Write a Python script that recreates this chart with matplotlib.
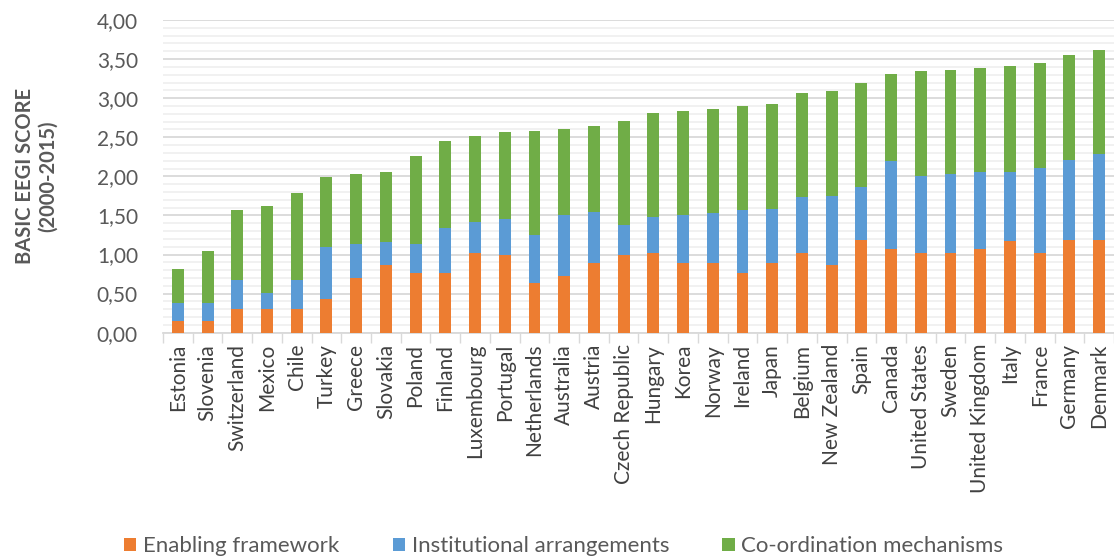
import matplotlib.pyplot as plt
import numpy as np
from matplotlib.ticker import FuncFormatter, MultipleLocator

countries = ["Estonia", "Slovenia", "Switzerland", "Mexico", "Chile", "Turkey",
             "Greece", "Slovakia", "Poland", "Finland", "Luxembourg", "Portugal",
             "Netherlands", "Australia", "Austria", "Czech Republic", "Hungary",
             "Korea", "Norway", "Ireland", "Japan", "Belgium", "New Zealand",
             "Spain", "Canada", "United States", "Sweden", "United Kingdom",
             "Italy", "France", "Germany", "Denmark"]

# cumulative tops of each stacked segment
enabling = [0.15, 0.15, 0.30, 0.30, 0.30, 0.43, 0.70, 0.86, 0.76, 0.76, 1.02, 0.99,
            0.63, 0.73, 0.89, 0.99, 1.02, 0.89, 0.89, 0.76, 0.89, 1.02, 0.86,
            1.19, 1.07, 1.02, 1.02, 1.07, 1.17, 1.02, 1.19, 1.19]
institutional_top = [0.38, 0.38, 0.68, 0.51, 0.68, 1.10, 1.14, 1.16, 1.14, 1.34, 1.41, 1.46,
                     1.25, 1.50, 1.54, 1.38, 1.48, 1.50, 1.53, 1.57, 1.58, 1.73, 1.75,
                     1.86, 2.20, 2.01, 2.03, 2.05, 2.06, 2.11, 2.21, 2.28]
total = [0.82, 1.05, 1.57, 1.62, 1.79, 1.99, 2.03, 2.05, 2.26, 2.45, 2.52, 2.57,
         2.58, 2.61, 2.65, 2.71, 2.81, 2.83, 2.86, 2.90, 2.92, 3.07, 3.09,
         3.20, 3.31, 3.35, 3.36, 3.39, 3.41, 3.45, 3.55, 3.61]

enabling = np.array(enabling)
institutional = np.array(institutional_top) - enabling
coordination = np.array(total) - np.array(institutional_top)

plt.rcParams['font.family'] = ['Lato', 'DejaVu Sans']
grey = "#595959"

fig = plt.figure(figsize=(11.14, 5.58), dpi=100)
ax = fig.add_axes([0.1463, 0.4038, 0.8537, 0.5604])

x = np.arange(len(countries))
w = 0.4
ax.bar(x, enabling, w, color="#ED7D31", label="Enabling framework", zorder=3)
ax.bar(x, institutional, w, bottom=enabling, color="#5B9BD5",
       label="Institutional arrangements", zorder=3)
ax.bar(x, coordination, w, bottom=enabling + institutional, color="#70AD47",
       label="Co-ordination mechanisms", zorder=3)

ax.set_ylim(0, 4)
ax.set_xlim(-0.5, len(countries) - 0.5)
ax.yaxis.set_major_locator(MultipleLocator(0.5))
ax.yaxis.set_minor_locator(MultipleLocator(0.1))
ax.yaxis.set_major_formatter(FuncFormatter(lambda v, p: f"{v:.2f}".replace(".", ",")))
ax.grid(axis="y", which="major", color="#d9d9d9", linewidth=1.3, zorder=0)
ax.grid(axis="y", which="minor", color="#f0f0f0", linewidth=1.3, zorder=0)

ax.set_xticks(x)
ax.set_xticklabels(countries, rotation=90, fontsize=15, color="#404040")
ax.set_xticks(np.arange(-0.5, len(countries)), minor=True)
ax.tick_params(axis="x", which="major", length=0, pad=8)
ax.tick_params(axis="x", which="minor", length=7, color="#d9d9d9", width=1)
ax.tick_params(axis="y", which="both", length=0, labelsize=15, labelcolor=grey, pad=18)

for s in ["top", "right", "left"]:
    ax.spines[s].set_visible(False)
ax.spines["bottom"].set_color("#d9d9d9")
ax.spines["bottom"].set_linewidth(1.3)

ax.set_ylabel("BASIC EEGI SCORE\n(2000-2015)", fontsize=14.5, fontweight="bold",
              color=grey, labelpad=28)

fig.legend(loc="lower center", bbox_to_anchor=(0.506, -0.033), ncol=3, frameon=False,
           fontsize=16, handlelength=0.55, handleheight=0.55, handletextpad=0.3,
           columnspacing=2.4, labelcolor=grey)

fig.savefig("out.png", dpi=100)
